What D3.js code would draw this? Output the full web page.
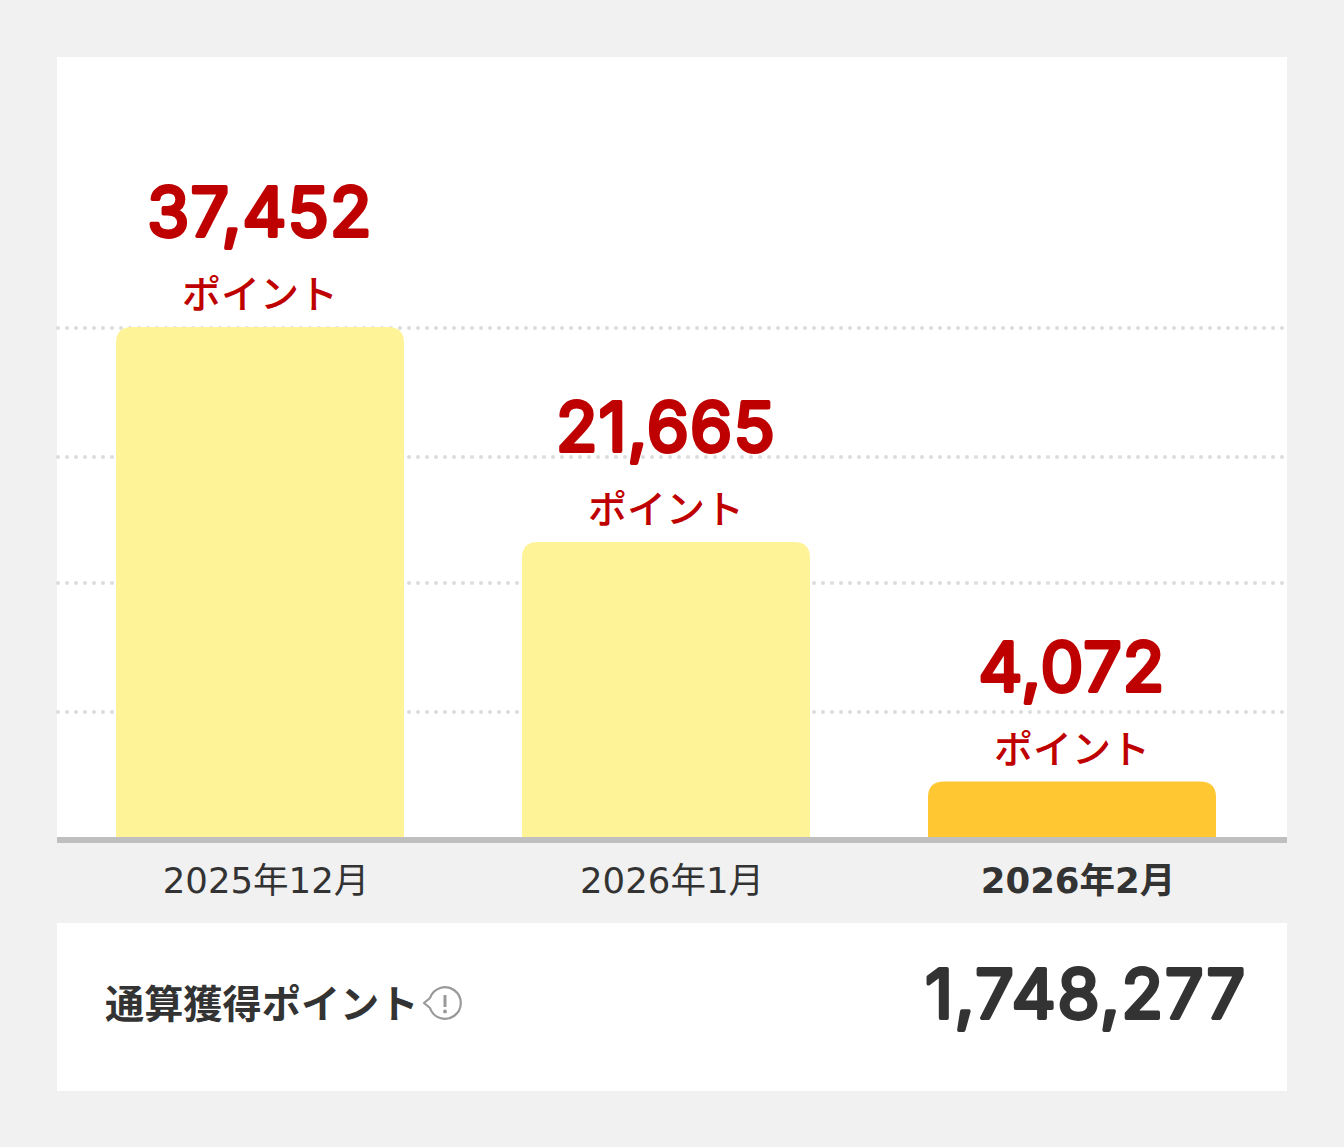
<!DOCTYPE html>
<html>
<head>
<meta charset="utf-8">
<script src="https://cdn.jsdelivr.net/npm/d3@7"></script>
<style>
  html, body { margin: 0; padding: 0; background: #f1f1f1; }
  svg { display: block; }
  .num { font-family: Inter, sans-serif; font-weight: 400; stroke-linejoin: round; stroke-linecap: round; }
  .jp { font-family: "DejaVu Sans", "Noto Sans CJK JP", sans-serif; }
  .kana { font-family: "Noto Sans CJK JP", sans-serif; }
</style>
</head>
<body>
<script>
const months = ['2025年12月', '2026年1月', '2026年2月']
const points = [37452, 21665, 4072]
const gridValues = [9180, 18650, 27900, 37380]
const currentMonth = '2026年2月'
const unitLabel = 'ポイント'
const totalLabel = '通算獲得ポイント'
const totalPoints = 1748277

const width = 1344
const height = 1147
const baseY = 837

const svg = d3.select('body').append('svg')
  .attr('width', width)
  .attr('height', height)

// panels
svg.append('rect').attr('x', 57).attr('y', 57).attr('width', 1230).attr('height', baseY - 57).attr('fill', '#fff')
svg.append('rect').attr('x', 57).attr('y', 923).attr('width', 1230).attr('height', 168).attr('fill', '#fff')

const xScale = d3.scaleBand().domain(months).range([116, 1216]).paddingInner(118 / 406)
const yScale = d3.scaleLinear().domain([0, 37452]).range([baseY, 327])

// dotted grid, round dots every 9px
svg.append('g').selectAll('line')
  .data(gridValues)
  .enter()
  .append('line')
  .attr('x1', 58)
  .attr('x2', 1287)
  .attr('y1', d => yScale(d))
  .attr('y2', d => yScale(d))
  .attr('stroke', '#dcdcdc')
  .attr('stroke-width', 4)
  .attr('stroke-linecap', 'round')
  .attr('stroke-dasharray', '0 9')

// bars, square at the bottom and rounded on top
function barPath(d, i) {
  const x0 = xScale(months[i])
  const x1 = x0 + xScale.bandwidth()
  const y = yScale(d)
  const r = 16
  return `M${x0},${baseY}V${y + r}Q${x0},${y} ${x0 + r},${y}H${x1 - r}Q${x1},${y} ${x1},${y + r}V${baseY}Z`
}

svg.append('g').selectAll('path')
  .data(points)
  .enter()
  .append('path')
  .attr('d', barPath)
  .attr('fill', (d, i) => months[i] === currentMonth ? '#ffc833' : '#fff398')

// value labels
const fmt = d3.format(',')
const labels = svg.append('g').selectAll('g')
  .data(points)
  .enter()
  .append('g')
  .attr('transform', (d, i) => `translate(${xScale(months[i]) + xScale.bandwidth() / 2},${yScale(d)})`)
  .attr('text-anchor', 'middle')
  .attr('fill', '#bf0000')

// the digits are a thin face with a thick round stroke to get the soft ends
labels.append('text')
  .attr('class', 'num')
  .attr('y', -91)
  .attr('font-size', 68)
  .attr('letter-spacing', 1.2)
  .attr('stroke', '#bf0000')
  .attr('stroke-width', 3.8)
  .text(d => fmt(d))

labels.append('text')
  .attr('class', 'kana')
  .attr('y', -19)
  .attr('font-size', 39)
  .attr('font-weight', 500)
  .text(unitLabel)

// x axis
const axis = svg.append('g')
  .attr('transform', `translate(6,${baseY})`)
  .call(d3.axisBottom(xScale).tickSize(0).tickPadding(31))
axis.select('.domain').remove()
axis.selectAll('text')
  .attr('class', 'jp')
  .attr('font-size', 35.5)
  .attr('font-family', null)
  .attr('fill', '#333')
  .attr('font-weight', d => d === currentMonth ? 700 : 400)

svg.append('line')
  .attr('x1', 57).attr('x2', 1287)
  .attr('y1', baseY + 3).attr('y2', baseY + 3)
  .attr('stroke', '#bfbfbf').attr('stroke-width', 6)

// total row
svg.append('text')
  .attr('class', 'kana')
  .attr('x', 105).attr('y', 1018)
  .attr('font-size', 39.2).attr('font-weight', 700)
  .attr('fill', '#333')
  .text(totalLabel)

const icon = svg.append('g').attr('transform', 'translate(445,1003)')
icon.append('path')
  .attr('d', 'M-15,-5A15.8,15.8 0 1 1 -15,5L-21,0Z')
  .attr('fill', '#fff').attr('stroke', '#999').attr('stroke-width', 2.2).attr('stroke-linejoin', 'round')
icon.append('line').attr('x1', 0).attr('x2', 0).attr('y1', -8).attr('y2', 4)
  .attr('stroke', '#999').attr('stroke-width', 3)
icon.append('circle').attr('cx', 0).attr('cy', 8.5).attr('r', 1.9).attr('fill', '#999')

svg.append('text')
  .attr('class', 'num')
  .attr('x', 1247).attr('y', 1018)
  .attr('text-anchor', 'end')
  .attr('font-size', 68)
  .attr('letter-spacing', 1.9)
  .attr('fill', '#333').attr('stroke', '#333').attr('stroke-width', 3.8)
  .text(fmt(totalPoints))
</script>
</body>
</html>
